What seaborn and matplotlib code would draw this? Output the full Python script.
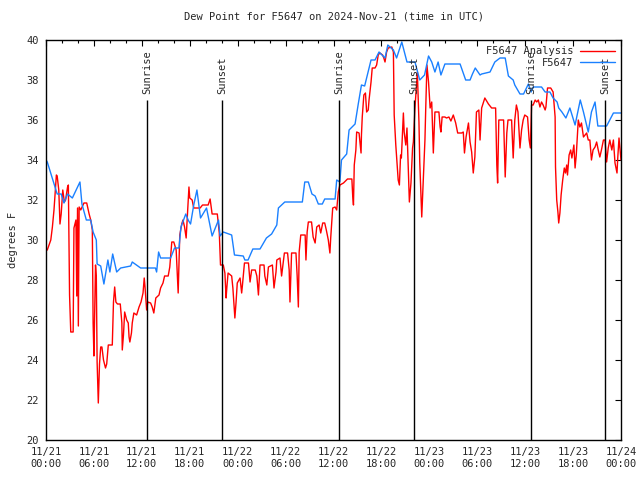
import pandas as pd
import matplotlib
matplotlib.use("Agg")
import matplotlib.pyplot as plt
import matplotlib.dates as mdates
import seaborn as sns

# Observed dew point (F5647), hours after 2024-11-21 00:00 UTC
obs_hours = [0.0, 0.16, 1.4, 1.9, 2.25, 2.7, 3.3, 4.25, 4.5, 5.05, 5.6, 5.9, 6.3, 6.4,
             6.85, 7.25, 7.75, 8.0, 8.35, 8.85, 9.35, 10.6, 10.8, 11.85, 13.7, 13.85,
             14.1, 14.35, 15.6, 16.1, 16.65, 16.9, 17.5, 17.8, 18.1, 18.5, 18.9, 19.35,
             20.1, 20.8, 21.6, 21.8, 22.2, 23.25, 23.6, 24.7, 24.9, 25.3, 25.9, 26.8,
             27.6, 28.25, 28.9, 29.1, 29.9, 32.1, 32.4, 32.85, 33.3, 33.7, 34.1, 34.6,
             34.9, 36.2, 36.4, 36.8, 37.0, 37.65, 37.95, 38.7, 39.1, 39.5, 39.9, 40.4,
             40.7, 41.2, 41.7, 42.45, 42.8, 43.5, 43.9, 44.55, 45.2, 46.2, 46.8, 47.4,
             47.9, 48.3, 48.7, 49.1, 49.45, 49.95, 51.85, 52.55, 53.1, 53.4, 53.75,
             54.35, 54.55, 55.6, 56.2, 56.85, 57.5, 57.9, 58.5, 58.7, 59.35, 59.8, 60.4,
             60.75, 61.0, 62.05, 62.5, 63.1, 63.5, 64.0, 64.2, 64.6, 65.1, 65.6, 66.25,
             66.9, 67.3, 67.9, 68.3, 68.75, 69.1, 70.2, 71.05, 72.0]
obs_vals = [34.0, 33.9, 32.3, 32.3, 31.85, 32.3, 32.1, 32.9, 31.8, 31.0, 31.0, 30.4, 30.0, 28.8,
            28.7, 27.8, 29.0, 28.4, 29.3, 28.4, 28.6, 28.7, 28.9, 28.6, 28.6, 28.4,
            29.4, 29.1, 29.1, 29.6, 29.6, 30.65, 31.3, 31.0, 30.8, 31.75, 32.5, 31.1,
            31.6, 30.2, 31.0, 30.2, 30.4, 30.25, 29.25, 29.2, 29.0, 29.0, 29.55, 29.55,
            30.1, 30.3, 30.75, 31.6, 31.9, 31.9, 32.9, 32.9, 32.3, 32.2, 31.8, 31.8,
            32.05, 32.05, 33.0, 32.9, 34.0, 34.3, 35.5, 35.8, 36.8, 37.75, 37.7, 38.5,
            39.0, 39.0, 39.4, 39.1, 39.75, 39.5, 39.1, 39.9, 38.9, 38.9, 38.0, 38.25,
            39.2, 38.9, 38.4, 38.9, 38.25, 38.8, 38.8, 38.0, 38.0, 38.3, 38.6,
            38.25, 38.3, 38.4, 38.9, 39.1, 39.1, 38.2, 38.0, 37.75, 37.3, 37.3, 37.8,
            37.4, 37.65, 37.65, 37.4, 37.4, 37.1, 36.9, 36.6, 36.4, 36.1, 36.6, 35.75,
            37.0, 36.4, 35.4, 36.4, 36.9, 35.7, 35.7, 36.35, 36.35]

# Analysis dew point, hours after 2024-11-21 00:00 UTC
ana_hours = [0.0, 0.16, 0.6, 0.8, 1.0, 1.3, 1.4, 1.6, 1.75, 1.9, 2.1, 2.3, 2.45, 2.7, 2.8,
             2.95, 3.1, 3.4, 3.5, 3.75, 3.85, 3.95, 4.05, 4.15, 4.35, 4.75, 5.1, 5.4,
             5.6, 5.8, 5.9, 6.0, 6.2, 6.3, 6.4, 6.55, 6.7, 6.85, 7.0, 7.2, 7.45, 7.6,
             7.8, 8.3, 8.45, 8.6, 8.75, 8.95, 9.3, 9.5, 9.55, 9.7, 9.85, 10.1, 10.3,
             10.4, 10.5, 10.7, 10.8, 11.0, 11.35, 11.65, 11.9, 12.15, 12.3, 12.4, 12.6,
             12.75, 13.1, 13.3, 13.5, 13.75, 14.15, 14.35, 14.65, 14.85, 15.3, 15.5,
             15.75, 16.0, 16.3, 16.45, 16.55, 16.75, 17.0, 17.15, 17.35, 17.55, 17.7,
             17.9, 18.0, 18.3, 18.5, 19.3, 19.6, 20.3, 20.55, 20.8, 21.45, 21.7, 21.85,
             22.2, 22.4, 22.55, 22.65, 22.8, 23.25, 23.4, 23.55, 23.65, 23.8, 23.95,
             24.3, 24.5, 24.6, 24.85, 25.35, 25.55, 25.75, 26.2, 26.4, 26.6, 26.8, 27.3,
             27.4, 27.65, 27.85, 28.35, 28.55, 28.8, 28.9, 29.3, 29.5, 29.85, 30.25,
             30.45, 30.55, 30.75, 31.3, 31.45, 31.6, 31.7, 31.9, 32.45, 32.55, 32.7,
             32.85, 33.25, 33.45, 33.7, 33.9, 34.2, 34.4, 34.65, 34.9, 35.1, 35.35,
             35.55, 35.65, 35.9, 36.2, 36.4, 36.6, 36.8, 37.25, 37.75, 38.3, 38.4, 38.5,
             38.6, 38.8, 38.9, 39.2, 39.35, 39.45, 39.5, 39.6, 39.8, 40.0, 40.15, 40.35,
             40.45, 40.7, 40.85, 41.2, 41.4, 41.6, 41.8, 42.15, 42.3, 42.45, 42.65,
             42.85, 43.3, 43.5, 43.6, 43.8, 44.0, 44.1, 44.25, 44.4, 44.5, 44.75, 44.85,
             45.05, 45.2, 45.4, 45.5, 45.7, 45.9, 46.0, 46.2, 46.4, 46.5, 46.7, 46.8,
             46.95, 47.05, 47.15, 47.3, 47.45, 47.55, 47.7, 47.9, 48.1, 48.3, 48.5,
             48.7, 49.2, 49.35, 49.45, 49.6, 49.95, 50.15, 50.45, 50.7, 51.0, 51.3,
             51.55, 52.05, 52.25, 52.4, 52.6, 52.9, 53.1, 53.3, 53.5, 53.7, 53.9, 54.2,
             54.35, 54.55, 54.95, 55.4, 55.8, 56.3, 56.45, 56.55, 56.7, 57.3, 57.5,
             57.7, 57.85, 58.3, 58.5, 58.7, 58.9, 59.1, 59.35, 59.55, 59.75, 59.95,
             60.3, 60.5, 60.65, 60.8, 61.0, 61.25, 61.45, 61.65, 61.85, 62.05, 62.25,
             62.5, 62.6, 62.8, 63.2, 63.5, 63.75, 63.8, 63.95, 64.1, 64.2, 64.35, 64.5,
             64.7, 64.9, 65.05, 65.2, 65.3, 65.5, 65.7, 65.85, 66.1, 66.25, 66.4,
             66.65, 66.85, 67.05, 67.3, 67.5, 67.7, 67.9, 68.1, 68.3, 68.5, 68.75,
             68.95, 69.15, 69.35, 69.55, 69.8, 70.0, 70.2, 70.4, 70.6, 70.85, 71.05,
             71.25, 71.5, 71.6, 71.75, 72.0]
ana_vals = [29.5, 29.5, 30.0, 30.65, 31.5, 33.25, 33.2, 32.5, 30.8, 31.3, 32.5, 31.9, 32.0, 32.65, 32.75,
            27.25, 25.4, 25.4, 30.6, 31.0, 27.2, 31.6, 25.7, 31.65, 31.5, 31.85, 31.85, 31.3,
            31.0, 30.5, 25.85, 24.2, 28.75, 28.2, 23.9, 21.85, 23.8, 24.65, 24.65, 24.0, 23.6, 23.8,
            24.75, 24.75, 26.9, 27.65, 26.9, 26.8, 26.8, 25.85, 24.5, 25.25, 26.4, 26.0, 25.85,
            25.15, 24.9, 25.35, 25.85, 26.35, 26.25, 26.65, 26.9, 27.35, 28.1, 27.65, 26.5,
            26.9, 26.85, 26.65, 26.35, 27.1, 27.25, 27.6, 27.85, 28.2, 28.2, 28.65,
            29.9, 29.9, 29.5, 28.2, 27.35, 30.25, 30.8, 31.0, 30.65, 30.1, 31.2,
            32.65, 32.1, 32.0, 31.6, 31.6, 31.75, 31.75, 32.05, 31.3, 31.3, 30.35, 28.75,
            28.75, 28.35, 27.1, 27.65, 28.35, 28.2, 27.6, 26.65, 26.1, 26.9, 27.85,
            28.1, 27.35, 27.75, 28.85, 28.85, 27.9, 28.5, 28.5, 28.2, 27.25, 28.75, 28.75,
            28.2, 27.75, 28.65, 28.75, 27.6, 28.4, 29.0, 29.1, 28.2, 29.35, 29.35,
            28.5, 26.9, 29.35, 29.35, 28.2, 26.65, 29.4, 30.25, 30.25, 29.0, 30.4,
            30.9, 30.9, 30.15, 29.85, 30.65, 30.75, 30.35, 30.85, 30.85, 30.5, 30.0,
            29.35, 30.1, 31.6, 31.65, 31.5, 32.4, 32.75, 32.85, 33.05, 33.05, 32.25, 31.75,
            33.75, 34.5, 35.4, 35.35, 34.75, 34.35, 35.25, 36.15, 37.25, 37.35, 36.4, 36.5,
            37.0, 37.9, 38.6, 38.6, 38.75, 39.25, 39.35, 39.25, 39.1, 38.9, 39.4,
            39.6, 39.65, 39.4, 36.25, 34.75, 33.6, 33.0, 32.75, 34.25, 34.1, 36.35, 35.4,
            34.75, 35.6, 33.1, 31.9, 32.85, 34.6, 34.9, 36.6, 37.75, 38.4, 35.9, 33.9,
            32.25, 31.15, 32.1, 33.65, 35.0, 36.6, 38.75, 37.9, 36.6, 36.9, 34.35,
            36.4, 36.4, 35.65, 35.4, 36.15, 36.15, 36.1, 36.15, 35.95, 36.25, 35.85,
            35.35, 35.35, 35.4, 34.35, 35.15, 35.85, 34.9, 34.4, 33.35, 34.15, 36.4, 36.5,
            35.0, 36.6, 37.1, 36.8, 36.6, 36.6, 33.75, 32.85, 36.0, 36.0, 33.15,
            35.35, 36.0, 36.0, 34.1, 36.0, 36.75, 36.4, 34.6, 35.5, 36.0, 36.25,
            36.15, 35.0, 34.6, 36.75, 36.75, 37.0, 36.9, 37.0, 36.65, 36.9, 36.75,
            36.5, 36.65, 37.6, 37.6, 37.4, 36.15, 33.65, 32.0, 31.4, 30.85, 31.35, 32.25,
            33.0, 33.6, 33.35, 33.75, 33.25, 34.25, 34.5, 34.1, 34.75, 33.6, 34.25,
            36.0, 35.65, 35.85, 35.15, 35.25, 35.35, 35.0, 35.0, 34.0, 34.5, 34.65,
            34.9, 34.5, 34.15, 34.5, 35.0, 35.0, 33.9, 34.6, 35.0, 34.5, 35.0,
            33.85, 33.35, 34.15, 35.1, 34.0]

# Sun events (hours after start)
sun_hours = [12.69, 22.07, 36.73, 46.08, 60.77, 70.05]
sun_labels = ["Sunrise", "Sunset", "Sunrise", "Sunset", "Sunrise", "Sunset"]

start = pd.Timestamp("2024-11-21 00:00")
obs = pd.DataFrame({"time": start + pd.to_timedelta(obs_hours, unit="h"), "dewpt": obs_vals})
ana = pd.DataFrame({"time": start + pd.to_timedelta(ana_hours, unit="h"), "dewpt": ana_vals})
sun_times = start + pd.to_timedelta(sun_hours, unit="h")

sns.set_style("white")
plt.rcParams["font.family"] = ["DejaVu Sans Mono"]
plt.rcParams["font.size"] = 7.5

fig = plt.figure(figsize=(6.4, 4.8), dpi=100)
ax = fig.add_axes([46 / 640, 40 / 480, 575 / 640, 400 / 480])

sns.lineplot(data=ana, x="time", y="dewpt", color="#ff0000", lw=1.0,
             estimator=None, sort=False, label="F5647 Analysis", ax=ax)
sns.lineplot(data=obs, x="time", y="dewpt", color="#1a80ff", lw=1.0,
             estimator=None, sort=False, label="F5647", ax=ax)

ax.vlines(sun_times, 20, 37, color="black", lw=1.0)
for t, lab in zip(sun_times, sun_labels):
    ax.text(t, 37.3, lab, rotation=90, ha="center", va="bottom", fontsize=7.5)

ax.set_xlim(start, start + pd.Timedelta(hours=72))
ax.set_ylim(20, 40)
ax.set_yticks(range(20, 41, 2))
ax.xaxis.set_major_locator(mdates.HourLocator(byhour=[0, 6, 12, 18]))
ax.xaxis.set_minor_locator(mdates.HourLocator(interval=2))
ax.xaxis.set_major_formatter(mdates.DateFormatter("%m/%d\n%H:%M"))
ax.tick_params(which="both", direction="in", top=True, right=True, color="black",
               labelsize=7.5, width=0.8)
ax.tick_params(which="major", length=4, pad=5)
ax.tick_params(which="minor", length=2)
for s in ax.spines.values():
    s.set_color("black")
    s.set_linewidth(1.0)

ax.set_xlabel("")
ax.set_ylabel("degrees F", fontsize=7.5, labelpad=6)
ax.set_title("Dew Point for F5647 on 2024-Nov-21 (time in UTC)", fontsize=7.5, pad=15)

ax.legend(loc="upper right", markerfirst=False, frameon=False, handlelength=3.3,
          handletextpad=0.7, labelspacing=0.15, borderaxespad=0.2, fontsize=7.5)

fig.savefig("out.png", dpi=100)
